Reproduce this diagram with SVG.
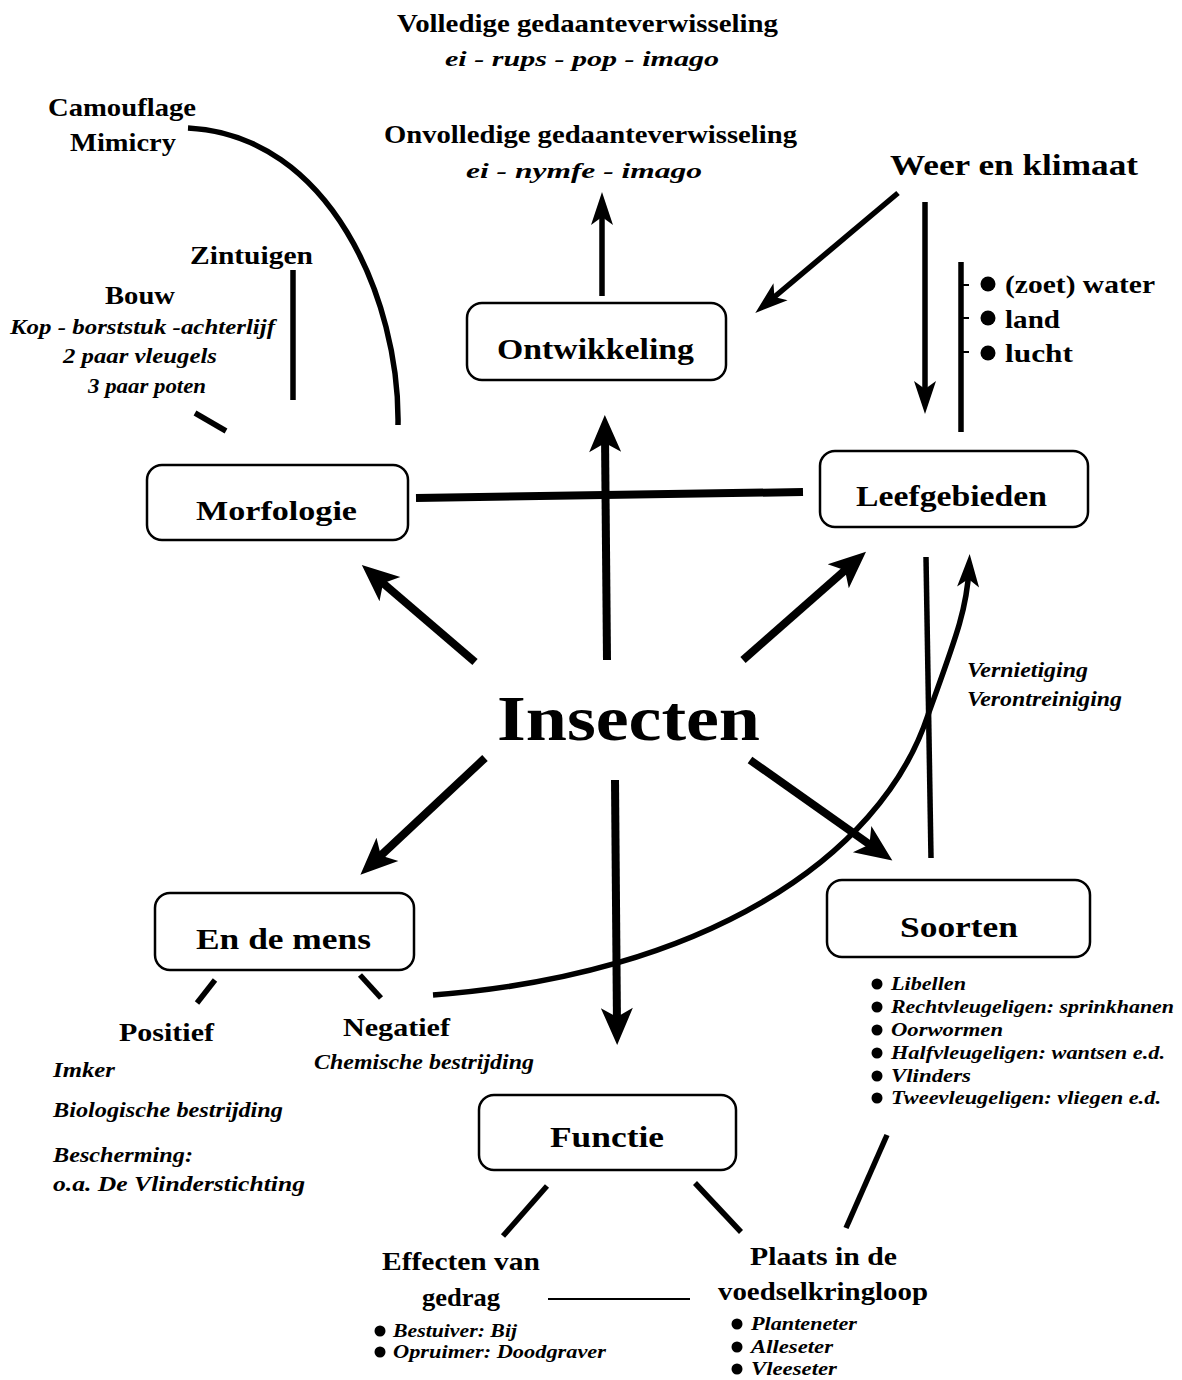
<svg xmlns="http://www.w3.org/2000/svg" width="1182" height="1380" viewBox="0 0 1182 1380">
<style>
.t{font-family:"Liberation Serif","DejaVu Serif",serif;font-weight:bold;fill:#000}
.i{font-family:"Liberation Serif","DejaVu Serif",serif;font-weight:bold;font-style:italic;fill:#000}
.box{fill:#fff;stroke:#000;stroke-width:2.5}
.big{stroke:#000;stroke-width:8;fill:none}
.med{stroke:#000;stroke-width:5.5;fill:none}
.thin{stroke:#000;stroke-width:2;fill:none}
</style>
<defs>
<marker id="ab" markerUnits="userSpaceOnUse" markerWidth="46" markerHeight="40" viewBox="-22 -20 46 40" refX="0" refY="0" orient="auto">
<path d="M20,0 L-17,-16 L-8,0 L-17,16 Z" fill="#000"/>
</marker>
<marker id="am" markerUnits="userSpaceOnUse" markerWidth="38" markerHeight="28" viewBox="-21 -14 38 28" refX="0" refY="0" orient="auto">
<path d="M14,0 L-19,-11 L-11,0 L-19,11 Z" fill="#000"/>
</marker>
</defs>
<rect width="1182" height="1380" fill="#fff"/>

<g id="connectors">
<path class="big" d="M475,662 L377,578" marker-end="url(#ab)"/>
<path class="big" d="M607,660 L605,435" marker-end="url(#ab)"/>
<path class="big" d="M743,660 L851,565" marker-end="url(#ab)"/>
<path class="big" d="M485,758 L375,861" marker-end="url(#ab)"/>
<path class="big" d="M615,780 L617,1025" marker-end="url(#ab)"/>
<path class="big" d="M750,760 L876,849" marker-end="url(#ab)"/>
<path class="med" d="M602,296 L602,206" marker-end="url(#am)"/>
<path class="med" d="M898,193 L766,304" marker-end="url(#am)"/>
<path class="med" d="M925,202 L925,400" marker-end="url(#am)"/>
<path class="med" d="M433,995 C 700,975 880,860 928,715 C 955,640 967,610 969,568" marker-end="url(#am)"/>
<path class="med" d="M926,557 L931,858"/>
<path class="big" d="M416,498 L803,492"/>
<path class="med" d="M188,128 C 330,135 400,300 398,425"/>
<path class="med" d="M293,270 L293,400"/>
<path class="med" d="M195,413 L226,431"/>
<path class="med" d="M961,262 L961,432"/>
<path class="thin" d="M961,285 L969,285 M961,318 L969,318 M961,352 L969,352"/>
<path class="med" d="M215,980 L197,1003"/>
<path class="med" d="M360,975 L381,998"/>
<path class="med" d="M547,1186 L503,1236"/>
<path class="med" d="M695,1183 L741,1232"/>
<path class="med" d="M887,1135 L846,1228"/>
<path class="thin" d="M548,1299 L690,1299"/>
</g>

<g id="volledige">
<text class="t" x="397" y="32" font-size="26" textLength="381" lengthAdjust="spacingAndGlyphs">Volledige gedaanteverwisseling</text>
<text class="i" x="445" y="66" font-size="21" textLength="274" lengthAdjust="spacingAndGlyphs">ei - rups - pop - imago</text>
</g>
<g id="onvolledige">
<text class="t" x="384" y="143" font-size="26" textLength="413" lengthAdjust="spacingAndGlyphs">Onvolledige gedaanteverwisseling</text>
<text class="i" x="466" y="178" font-size="21" textLength="236" lengthAdjust="spacingAndGlyphs">ei - nymfe -  imago</text>
</g>
<g id="camouflage">
<text class="t" x="48" y="116" font-size="26" textLength="148" lengthAdjust="spacingAndGlyphs">Camouflage</text>
<text class="t" x="70" y="151" font-size="26" textLength="106" lengthAdjust="spacingAndGlyphs">Mimicry</text>
</g>
<g id="zintuigen">
<text class="t" x="190" y="264" font-size="26" textLength="123" lengthAdjust="spacingAndGlyphs">Zintuigen</text>
</g>
<g id="bouw">
<text class="t" x="105" y="304" font-size="26" textLength="70" lengthAdjust="spacingAndGlyphs">Bouw</text>
<text class="i" x="10" y="334" font-size="22" textLength="265" lengthAdjust="spacingAndGlyphs">Kop - borststuk -achterlijf</text>
<text class="i" x="63" y="363" font-size="22" textLength="154" lengthAdjust="spacingAndGlyphs">2 paar vleugels</text>
<text class="i" x="88" y="393" font-size="22" textLength="118" lengthAdjust="spacingAndGlyphs">3 paar poten</text>
</g>
<g id="ontwikkeling">
<rect class="box" x="467" y="303" width="259" height="77" rx="15"/>
<text class="t" x="497" y="359" font-size="29" textLength="197" lengthAdjust="spacingAndGlyphs">Ontwikkeling</text>
</g>
<g id="weer">
<text class="t" x="890" y="175" font-size="30" textLength="248" lengthAdjust="spacingAndGlyphs">Weer en klimaat</text>
</g>
<g id="habitats">
<circle cx="988" cy="284" r="7.5"/>
<text class="t" x="1005" y="293" font-size="25" textLength="150" lengthAdjust="spacingAndGlyphs">(zoet) water</text>
<circle cx="988" cy="318" r="7.5"/>
<text class="t" x="1005" y="328" font-size="25" textLength="55" lengthAdjust="spacingAndGlyphs">land</text>
<circle cx="988" cy="353" r="7.5"/>
<text class="t" x="1005" y="362" font-size="25" textLength="68" lengthAdjust="spacingAndGlyphs">lucht</text>
</g>
<g id="morfologie">
<rect class="box" x="147" y="465" width="261" height="75" rx="15"/>
<text class="t" x="196" y="520" font-size="28" textLength="161" lengthAdjust="spacingAndGlyphs">Morfologie</text>
</g>
<g id="leefgebieden">
<rect class="box" x="820" y="451" width="268" height="76" rx="15"/>
<text class="t" x="856" y="506" font-size="29" textLength="191" lengthAdjust="spacingAndGlyphs">Leefgebieden</text>
</g>
<g id="insecten">
<text class="t" x="497" y="740" font-size="64" textLength="263" lengthAdjust="spacingAndGlyphs">Insecten</text>
</g>
<g id="vernietiging">
<text class="i" x="967" y="677" font-size="20" textLength="121" lengthAdjust="spacingAndGlyphs">Vernietiging</text>
<text class="i" x="967" y="706" font-size="20" textLength="155" lengthAdjust="spacingAndGlyphs">Verontreiniging</text>
</g>
<g id="endemens">
<rect class="box" x="155" y="893" width="259" height="77" rx="15"/>
<text class="t" x="196" y="949" font-size="29" textLength="175" lengthAdjust="spacingAndGlyphs">En de mens</text>
</g>
<g id="positief">
<text class="t" x="119" y="1041" font-size="26" textLength="95" lengthAdjust="spacingAndGlyphs">Positief</text>
<text class="i" x="53" y="1077" font-size="21" textLength="62" lengthAdjust="spacingAndGlyphs">Imker</text>
<text class="i" x="53" y="1117" font-size="21" textLength="230" lengthAdjust="spacingAndGlyphs">Biologische bestrijding</text>
<text class="i" x="53" y="1162" font-size="21" textLength="140" lengthAdjust="spacingAndGlyphs">Bescherming:</text>
<text class="i" x="53" y="1191" font-size="21" textLength="252" lengthAdjust="spacingAndGlyphs">o.a. De Vlinderstichting</text>
</g>
<g id="negatief">
<text class="t" x="343" y="1036" font-size="26" textLength="107" lengthAdjust="spacingAndGlyphs">Negatief</text>
<text class="i" x="314" y="1069" font-size="21" textLength="220" lengthAdjust="spacingAndGlyphs">Chemische bestrijding</text>
</g>
<g id="soorten">
<rect class="box" x="827" y="880" width="263" height="77" rx="15"/>
<text class="t" x="900" y="937" font-size="29" textLength="118" lengthAdjust="spacingAndGlyphs">Soorten</text>
</g>
<g id="soortenlijst">
<circle cx="877" cy="984" r="5.5"/><text class="i" x="891" y="990" font-size="18.5" textLength="75" lengthAdjust="spacingAndGlyphs">Libellen</text>
<circle cx="877" cy="1007" r="5.5"/><text class="i" x="891" y="1013" font-size="18.5" textLength="283" lengthAdjust="spacingAndGlyphs">Rechtvleugeligen: sprinkhanen</text>
<circle cx="877" cy="1030" r="5.5"/><text class="i" x="891" y="1036" font-size="18.5" textLength="112" lengthAdjust="spacingAndGlyphs">Oorwormen</text>
<circle cx="877" cy="1053" r="5.5"/><text class="i" x="891" y="1059" font-size="18.5" textLength="274" lengthAdjust="spacingAndGlyphs">Halfvleugeligen: wantsen e.d.</text>
<circle cx="877" cy="1076" r="5.5"/><text class="i" x="891" y="1082" font-size="18.5" textLength="80" lengthAdjust="spacingAndGlyphs">Vlinders</text>
<circle cx="877" cy="1098" r="5.5"/><text class="i" x="891" y="1104" font-size="18.5" textLength="270" lengthAdjust="spacingAndGlyphs">Tweevleugeligen: vliegen e.d.</text>
</g>
<g id="functie">
<rect class="box" x="479" y="1095" width="257" height="75" rx="15"/>
<text class="t" x="550" y="1147" font-size="29" textLength="114" lengthAdjust="spacingAndGlyphs">Functie</text>
</g>
<g id="effecten">
<text class="t" x="382" y="1270" font-size="26" textLength="158" lengthAdjust="spacingAndGlyphs">Effecten van</text>
<text class="t" x="422" y="1306" font-size="26" textLength="78" lengthAdjust="spacingAndGlyphs">gedrag</text>
<circle cx="380" cy="1331" r="5.5"/><text class="i" x="393" y="1337" font-size="18.5" textLength="124" lengthAdjust="spacingAndGlyphs">Bestuiver: Bij</text>
<circle cx="380" cy="1352" r="5.5"/><text class="i" x="393" y="1358" font-size="18.5" textLength="213" lengthAdjust="spacingAndGlyphs">Opruimer: Doodgraver</text>
</g>
<g id="plaats">
<text class="t" x="750" y="1265" font-size="26" textLength="147" lengthAdjust="spacingAndGlyphs">Plaats in de</text>
<text class="t" x="718" y="1300" font-size="26" textLength="210" lengthAdjust="spacingAndGlyphs">voedselkringloop</text>
<circle cx="737" cy="1324" r="5.5"/><text class="i" x="751" y="1330" font-size="18.5" textLength="106" lengthAdjust="spacingAndGlyphs">Planteneter</text>
<circle cx="737" cy="1347" r="5.5"/><text class="i" x="751" y="1353" font-size="18.5" textLength="82" lengthAdjust="spacingAndGlyphs">Alleseter</text>
<circle cx="737" cy="1369" r="5.5"/><text class="i" x="751" y="1375" font-size="18.5" textLength="86" lengthAdjust="spacingAndGlyphs">Vleeseter</text>
</g>
</svg>
